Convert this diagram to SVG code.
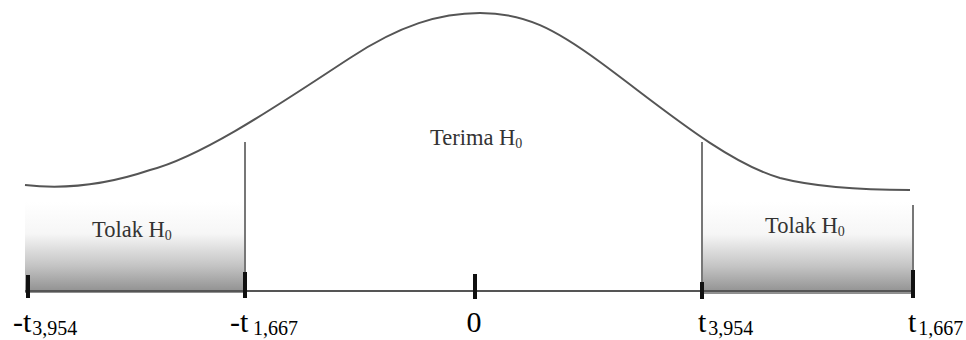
<svg xmlns="http://www.w3.org/2000/svg" width="966" height="340" viewBox="0 0 966 340">
<defs>
<linearGradient id="shade" x1="0" y1="0" x2="0" y2="1">
<stop offset="0" stop-color="#ffffff"/>
<stop offset="0.35" stop-color="#f6f6f6"/>
<stop offset="0.7" stop-color="#c4c4c4"/>
<stop offset="1" stop-color="#8e8e8e"/>
</linearGradient>
<style>
.curve{fill:none;stroke:#555;stroke-width:2}
.thin{stroke:#777;stroke-width:2;fill:none}
.axis{stroke:#555;stroke-width:2}
.tick{stroke:#111;stroke-width:4}
.region{font-family:"Liberation Serif",serif;font-size:22.5px;fill:#333}
.rsub{font-size:14px}
.lab{font-family:"Liberation Serif","Times New Roman",serif;font-size:30px;fill:#000}
.sub{font-size:20px}
</style>
</defs>
<g id="regions">
<rect id="reject-left" x="25" y="202" width="220" height="91" fill="url(#shade)"/>
<rect id="reject-right" x="703" y="202" width="211" height="92" fill="url(#shade)"/>
<line class="thin" x1="913" y1="205" x2="913" y2="272" stroke-width="1.5"/>
</g>
<g id="curve">
<path class="curve" d="M25,185 C60,189 100,187 150,170 C205,156 290,97 350,58 C400,25 440,13 480,13 C525,13 555,29 600,62 C660,106 725,162 780,178 C815,187 860,190 910,190"/>
</g>
<g id="connectors">
<line class="thin" x1="245" y1="142" x2="245" y2="290"/>
<line class="thin" x1="702" y1="142" x2="702" y2="290"/>
<line class="axis" x1="25" y1="291" x2="913" y2="291"/>
<line class="tick" x1="28" y1="275" x2="28" y2="298"/>
<line class="tick" x1="245" y1="272" x2="245" y2="298"/>
<line class="tick" x1="475" y1="274" x2="475" y2="299"/>
<line class="tick" x1="702" y1="282" x2="702" y2="299" stroke-width="3"/>
<line class="tick" x1="913" y1="270" x2="913" y2="298" stroke-width="5"/>
</g>
<g id="node-tolak-left">
<text class="region" x="92" y="237">Tolak H<tspan class="rsub" dy="3">0</tspan></text>
</g>
<g id="node-terima">
<text class="region" x="430" y="145">Terima H<tspan class="rsub" dy="3">0</tspan></text>
</g>
<g id="node-tolak-right">
<text class="region" x="765" y="233">Tolak H<tspan class="rsub" dy="3">0</tspan></text>
</g>
<g id="labels">
<text class="lab" x="13" y="332">-t<tspan class="sub" dx="1" dy="3">3,954</tspan></text>
<text class="lab" x="230" y="332">-t<tspan class="sub" x="253" dy="3">1,667</tspan></text>
<text class="lab" x="474" y="332" text-anchor="middle">0</text>
<text class="lab" x="698" y="332">t<tspan class="sub" dx="2" dy="3">3,954</tspan></text>
<text class="lab" x="908" y="332">t<tspan class="sub" dx="2" dy="3">1,667</tspan></text>
</g>
</svg>
